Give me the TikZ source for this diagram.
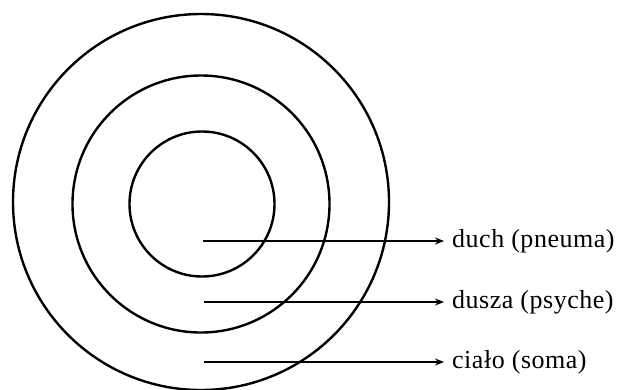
\documentclass[tikz,border=0pt]{standalone}
\usepackage{fontspec}
\setmainfont{Liberation Serif}
\newfontfamily\partfont{Liberation Serif}[LetterSpace=2]
\usetikzlibrary{arrows.meta, positioning}

\begin{document}
\begin{tikzpicture}[x=1pt, y=-1pt, >=Stealth,
   ring/.style={draw, circle, line width=2.4pt, inner sep=0pt},
   part/.style={anchor=west, inner sep=0pt, font=\partfont\fontsize{26}{28}\selectfont},
   pointer/.style={-{Stealth[length=9pt, width=7pt]}, line width=1.8pt, shorten >=8pt}]
  \useasboundingbox (0,0) rectangle (617,389);
  % the three rings
  \node[ring, minimum size=376pt] (soma) at (201,202) {};
  \node[ring, minimum size=257pt] (psyche) at (201,204) {};
  \node[ring, minimum size=145pt] (pneuma) at (202,204) {};
  % labels
  \node[part] (duch) at (452,241) {duch (pneuma)};
  \node[part] (dusza) at (452,302) {dusza (psyche)};
  \node[part] (cialo) at (452,362) {ciało (soma)};
  \coordinate (duchstart) at (203,241);
  \coordinate (duszastart) at (204,302);
  \coordinate (cialostart) at (204,362);
  \draw[pointer] (duchstart) -- (duch);
  \draw[pointer] (duszastart) -- (dusza);
  \draw[pointer] (cialostart) -- (cialo);
\end{tikzpicture}
\end{document}
